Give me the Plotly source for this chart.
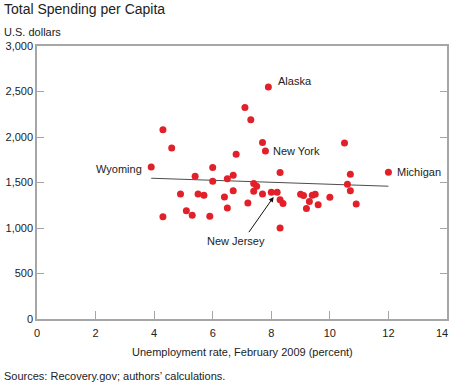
import plotly.graph_objects as go

# Data: unemployment rate (Feb 2009, %) and total spending per capita (US$)
unemployment = [3.9, 4.3, 4.6, 4.3, 4.9, 5.1, 5.3, 5.4, 5.5, 5.7,
                5.9, 6.0, 6.0, 6.4, 6.5, 6.5, 6.7, 6.7, 6.8, 7.1,
                7.2, 7.3, 7.4, 7.4, 7.5, 7.7, 7.7, 7.8, 7.9, 8.0,
                8.2, 8.3, 8.3, 8.3, 8.4, 9.0, 9.1, 9.2, 9.3, 9.4,
                9.5, 9.6, 10.0, 10.5, 10.6, 10.7, 10.7, 10.9, 12.0]
spending = [1670, 2080, 1880, 1125, 1375, 1190, 1140, 1570, 1375, 1360,
            1130, 1665, 1515, 1340, 1540, 1220, 1580, 1410, 1810, 2325,
            1275, 2190, 1490, 1405, 1460, 1940, 1375, 1845, 2550, 1393,
            1393, 1610, 1310, 1000, 1268, 1372, 1357, 1215, 1290, 1360,
            1372, 1255, 1338, 1935, 1480, 1590, 1410, 1265, 1613]

trend_x = [3.9, 12.0]
trend_y = [1547, 1459]

x_ticks = [0, 2, 4, 6, 8, 10, 12, 14]
x_tick_labels = ["0", "2", "4", "6", "8", "10", "12", "14"]
y_ticks = [0, 500, 1000, 1500, 2000, 2500, 3000]
y_tick_labels = ["0", "500", "1,000", "1,500", "2,000", "2,500", "3,000"]

FONT = "Arial, Liberation Sans, sans-serif"
TXT = "#222222"
AXC = "#a6a6a6"

fig = go.Figure()
fig.add_trace(go.Scatter(x=trend_x, y=trend_y, mode="lines",
                         line=dict(color="#4d4d4d", width=1), hoverinfo="skip"))
fig.add_trace(go.Scatter(x=unemployment, y=spending, mode="markers",
                         marker=dict(color="#e2202a", size=7, line=dict(width=0))))

lab = dict(xref="x", yref="y", showarrow=False, font=dict(size=11, color=TXT, family=FONT), yanchor="middle")
annotations = [
    dict(x=8.15, y=2614, text="Alaska", xanchor="left", **lab),
    dict(x=8.0, y=1844, text="New York", xanchor="left", **lab),
    dict(x=12.23, y=1613, text="Michigan", xanchor="left", **lab),
    dict(x=3.65, y=1650, text="Wyoming", xanchor="right", **lab),
    dict(x=6.8, y=853, text="New Jersey", xanchor="center", **lab),
    dict(x=8.08, y=1342, ax=7.2, ay=938, axref="x", ayref="y", xref="x", yref="y",
         text="", showarrow=True, arrowhead=2, arrowsize=1, arrowwidth=1, arrowcolor="#111111"),
    # last x tick label, kept inside the page edge as in the original
    dict(xref="paper", yref="paper", x=1.0073, y=-0.051, xanchor="right", yanchor="middle",
         text=x_tick_labels[-1], showarrow=False, font=dict(size=11, color=TXT, family=FONT)),
    dict(xref="paper", yref="paper", x=-0.0854, y=1.1355, xanchor="left", yanchor="middle",
         text="Total Spending per Capita", showarrow=False, font=dict(size=14, color=TXT, family=FONT)),
    dict(xref="paper", yref="paper", x=-0.0854, y=1.051, xanchor="left", yanchor="middle",
         text="U.S. dollars", showarrow=False, font=dict(size=11, color=TXT, family=FONT)),
    dict(xref="paper", yref="paper", x=0.502, y=-0.121, xanchor="center", yanchor="middle",
         text="Unemployment rate, February 2009 (percent)", showarrow=False,
         font=dict(size=11, color=TXT, family=FONT)),
    dict(xref="paper", yref="paper", x=-0.0854, y=-0.209, xanchor="left", yanchor="middle",
         text="Sources: Recovery.gov; authors\u2019 calculations.", showarrow=False,
         font=dict(size=11, color=TXT, family=FONT)),
]

fig.update_layout(
    width=450, height=383,
    margin=dict(l=37, r=3, t=46, b=64),
    paper_bgcolor="white", plot_bgcolor="white",
    showlegend=False,
    font=dict(family=FONT, size=11, color=TXT),
    annotations=annotations,
)
fig.update_xaxes(range=[0, 14], tickvals=x_ticks, ticktext=x_tick_labels[:-1] + [""],
                 showgrid=False, zeroline=False, showline=True, linecolor=AXC, linewidth=1.5,
                 mirror=True, ticks="inside", ticklen=8, tickcolor=AXC, tickwidth=1,
                 ticklabelstandoff=3, automargin=False,
                 tickfont=dict(size=11, color=TXT))
fig.update_yaxes(range=[0, 3000], tickvals=y_ticks, ticktext=y_tick_labels,
                 showgrid=False, zeroline=False, showline=True, linecolor=AXC, linewidth=1.5,
                 mirror="ticks", ticks="inside", ticklen=7, tickcolor=AXC, tickwidth=1,
                 automargin=False, tickfont=dict(size=11, color=TXT))

fig.write_html("out.html", config={"displayModeBar": False},
               post_script="document.body.style.margin='0px';document.body.style.overflow='hidden';")
